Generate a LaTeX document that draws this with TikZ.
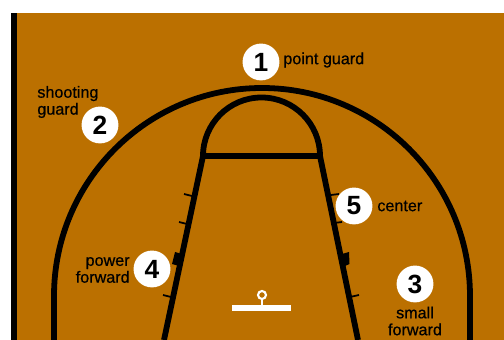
\documentclass[tikz,border=0pt]{standalone}
\usepackage{fontspec}
\setmainfont{Liberation Sans}
\definecolor{court}{HTML}{BB7000}
\tikzset{
  player/.style={circle, fill=white, minimum size=37*0.567pt, inner sep=0pt, font=\fontsize{15}{15}\selectfont\bfseries},
  role/.style={font=\fontsize{9.2}{9.6}\selectfont\addfontfeature{FakeBold=0.6}, align=center, inner sep=0pt},
  courtline/.style={line width=3.3pt},
  tick/.style={line width=1pt}
}
\begin{document}
\begin{tikzpicture}[x=0.02cm, y=-0.02cm]
\useasboundingbox (0,0) rectangle (504,340);
% Floor
\fill[court] (17,13) rectangle (504,340);
\fill[black] (11,13) rectangle (17,340);

% Three point line
\draw[courtline] (54,340) -- (54,296) arc[start angle=180, end angle=360, radius=208] -- (470,340);

% Key
\draw[courtline] (203,156) arc[start angle=180, end angle=360, radius=58.5];
\draw[courtline] (164,340) -- (203,156) -- (320,156) -- (358,340);

% Lane marks
\draw[tick] (184,194) -- (192,196);
\draw[tick] (179,222) -- (187,224);
\draw[tick] (163,295) -- (171,297);
\draw[tick] (331,195) -- (339,194);
\draw[tick] (334,223) -- (342,222);
\draw[tick] (350,297) -- (359,295);
\fill[black] (175,252) -- (182,254) -- (179,266) -- (172,264) -- cycle;
\fill[black] (342,254) -- (349,252) -- (349.5,264) -- (345,266) -- cycle;

% Basket
\fill[white] (232,305) rectangle (291,311);
\draw[white, line width=1.2pt] (262,299) -- (262,305);
\draw[white, line width=1.2pt] (262,295) circle[radius=4];

% Players
\node[player] (pg) at (261,62) {1};
\node[player] (sg) at (100,125) {2};
\node[player] (sf) at (415,284) {3};
\node[player] (pf) at (152,269) {4};
\node[player] (ce) at (354,206) {5};

% Roles
\node[role, anchor=west] (pgname) at (283,60) {point guard};
\node[role, align=left, anchor=west] (sgname) at (37,102) {shooting\\guard};
\node[role] (sfname) at (415,321) {small\\forward};
\node[role, align=right, anchor=east] (pfname) at (130,270) {power\\forward};
\node[role, anchor=west] (cename) at (377,206) {center};
\end{tikzpicture}
\end{document}
